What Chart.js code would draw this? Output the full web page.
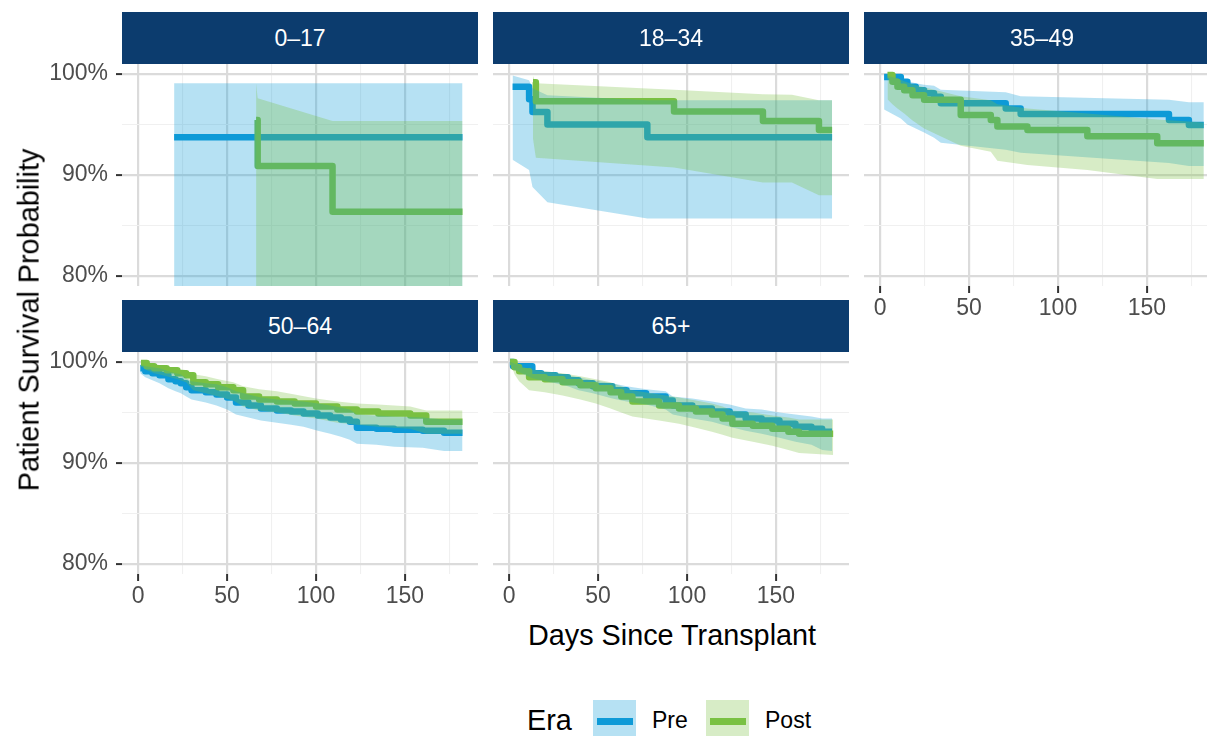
<!DOCTYPE html>
<html>
<head>
<meta charset="utf-8">
<script src="https://cdn.jsdelivr.net/npm/chart.js@4.4.1/dist/chart.umd.min.js"></script>
<style>
  html, body { margin: 0; padding: 0; background: #fff; }
  body { width: 1207px; height: 736px; overflow: hidden; position: relative;
         font-family: "Liberation Sans", Arial, Helvetica, sans-serif; }
  canvas { position: absolute; z-index: 1; }
  .strip { position: absolute; z-index: 2; width: 356px; height: 52px; background: #0C3C6E;
           color: #fff; font-size: 23px; line-height: 1; display: flex;
           align-items: center; justify-content: center; }
  .title { position: absolute; z-index: 3; color: #000; font-size: 28.8px; line-height: 1; white-space: nowrap; }
  .legend-key { position: absolute; z-index: 3; width: 43px; height: 43px; }
  .legend-key span { position: absolute; left: 4px; width: 36px; top: 18px; height: 6.7px; }
  .legend-label { position: absolute; z-index: 3; font-size: 23px; line-height: 1; color: #000; white-space: nowrap; }
</style>
</head>
<body>
<script>
// ---- facets, eras and axis ticks ----
const AGE_GROUPS = ['0–17', '18–34', '35–49', '50–64', '65+'];
const ERAS = ['Pre', 'Post'];
const X_MAJOR = [0, 50, 100, 150];
const X_MINOR = [25, 75, 125, 175];
const Y_MAJOR = [80, 90, 100];
const Y_MINOR = [85, 95];
const X_LIMITS = [-9.1, 191.1];
const Y_LIMITS = [79, 101];

// ---- Kaplan-Meier estimates (%) with confidence bands, by age group and era ----
// 0–17
const days_0_17_pre  = [20.2, 182.4];
const surv_0_17_pre  = [93.75, 93.75];
const upper_0_17_pre = [99.1, 99.1];
const lower_0_17_pre = [63.2, 63.2];
const days_0_17_post  = [66.3, 67.2, 109.3, 182.4];
const surv_0_17_post  = [95.45, 90.9, 86.35, 86.35];
const upper_0_17_post = [99.1, 97.6, 95.35, 95.35];
const lower_0_17_post = [73.1, 70.8, 62.5, 62.5];

// 18–34
const days_18_34_pre  = [1.9, 11.2, 13.1, 21.5, 77.7, 181.6];
const surv_18_34_pre  = [98.75, 97.5, 96.25, 95.0, 93.75, 93.75];
const upper_18_34_pre = [99.85, 99.4, 98.6, 97.9, 97.4, 97.4];
const lower_18_34_pre = [91.5, 90.5, 88.8, 87.3, 85.7, 85.7];
const days_18_34_post  = [13.4, 15.0, 92.7, 142.7, 159.0, 174.2, 181.6];
const surv_18_34_post  = [99.2, 97.3, 96.3, 95.35, 95.35, 94.45, 94.45];
const upper_18_34_post = [99.8, 99.1, 98.45, 98.0, 97.95, 97.4, 97.4];
const lower_18_34_post = [93.6, 91.7, 90.75, 89.25, 89.25, 88.0, 88.0];

// 35–49
const days_35_49_pre  = [2.2, 11.6, 15.3, 20.0, 24.7, 30.3, 34.1, 70.6, 79.0, 162.4, 173.6, 182.0];
const surv_35_49_pre  = [99.7, 99.25, 98.75, 98.4, 98.1, 97.75, 97.1, 96.6, 96.05, 95.45, 94.95, 94.95];
const upper_35_49_pre = [99.9, 99.5, 99.3, 99.1, 98.95, 98.85, 98.45, 98.2, 97.8, 97.45, 97.2, 97.2];
const lower_35_49_pre = [96.5, 95.6, 95.0, 94.6, 94.2, 93.7, 93.2, 92.5, 92.2, 91.2, 90.9, 90.9];
const days_35_49_post  = [4.1, 6.9, 9.7, 13.5, 18.2, 24.7, 45.3, 62.2, 65.9, 82.8, 116.5, 155.8, 182.0];
const surv_35_49_post  = [99.9, 99.25, 98.75, 98.4, 97.9, 97.45, 95.95, 95.45, 94.8, 94.45, 93.85, 93.15, 93.15];
const upper_35_49_post = [99.95, 99.8, 99.6, 99.3, 99.0, 98.7, 97.8, 97.4, 97.0, 96.6, 96.1, 95.5, 95.2];
const lower_35_49_post = [97.5, 97.0, 96.6, 96.1, 95.4, 94.6, 92.9, 92.3, 91.4, 91.0, 90.5, 89.6, 89.6];

// 50–64
const days_50_64_pre  = [1.2, 4, 8, 12, 17, 21, 24, 27, 30, 38, 44, 50, 55, 62, 69, 78, 86, 93, 101, 108, 114, 119, 123, 134, 144, 160, 172, 182.4];
const surv_50_64_pre  = [99.4, 99.1, 98.9, 98.7, 98.3, 98.1, 97.9, 97.5, 97.2, 97.0, 96.8, 96.5, 96.0, 95.7, 95.4, 95.2, 95.1, 94.9, 94.7, 94.5, 94.3, 94.1, 93.5, 93.4, 93.3, 93.2, 93.0, 93.0];
const upper_50_64_pre = [99.8, 99.6, 99.5, 99.4, 99.1, 98.9, 98.8, 98.4, 98.1, 97.9, 97.8, 97.5, 97.1, 96.8, 96.5, 96.3, 96.2, 96.1, 95.9, 95.7, 95.5, 95.3, 94.8, 94.7, 94.6, 94.5, 94.3, 94.3];
const lower_50_64_pre = [98.9, 98.5, 98.2, 97.9, 97.4, 97.1, 96.9, 96.6, 96.3, 96.0, 95.7, 95.3, 94.8, 94.5, 94.2, 94.0, 93.8, 93.6, 93.2, 92.9, 92.6, 92.3, 91.9, 91.8, 91.6, 91.5, 91.2, 91.2];
const days_50_64_post  = [1.6, 4.8, 9, 16, 22, 27, 31, 38, 45, 53.5, 59, 68, 78, 88, 100, 112, 123, 135, 153, 162, 182.4];
const surv_50_64_post  = [99.9, 99.6, 99.4, 99.2, 98.9, 98.7, 98.0, 97.8, 97.5, 97.2, 96.6, 96.3, 96.1, 95.9, 95.6, 95.3, 95.1, 94.9, 94.7, 94.1, 94.1];
const upper_50_64_post = [100.0, 99.95, 99.8, 99.6, 99.4, 99.2, 98.8, 98.6, 98.3, 98.0, 97.6, 97.3, 97.1, 96.8, 96.4, 96.1, 95.9, 95.8, 95.6, 95.2, 95.2];
const lower_50_64_post = [99.6, 99.2, 98.9, 98.6, 98.3, 98.0, 97.2, 96.9, 96.6, 96.2, 95.6, 95.2, 95.0, 94.7, 94.4, 94.0, 93.8, 93.6, 93.4, 92.9, 92.9];

// 65+
const days_65_pre  = [0.5, 2.2, 13, 18, 26, 33, 39, 47, 58, 66, 77, 88, 92, 103, 114, 124, 133, 142, 152, 161, 170, 176, 181.6];
const surv_65_pre  = [100, 99.6, 98.9, 98.7, 98.5, 98.2, 97.9, 97.6, 97.2, 96.9, 96.6, 96.2, 95.7, 95.4, 95.1, 94.8, 94.4, 94.2, 93.9, 93.6, 93.4, 93.1, 93.1];
const upper_65_pre = [100, 99.9, 99.3, 99.1, 99.0, 98.7, 98.5, 98.2, 97.9, 97.6, 97.3, 97.1, 96.6, 96.4, 96.1, 95.8, 95.4, 95.3, 95.0, 94.8, 94.6, 94.4, 94.4];
const lower_65_pre = [100, 99.3, 98.4, 98.2, 97.9, 97.6, 97.2, 96.9, 96.4, 96.1, 95.8, 95.3, 94.8, 94.4, 94.1, 93.6, 93.2, 92.9, 92.5, 92.1, 91.8, 91.3, 91.2];
const days_65_post  = [0.5, 3, 5.6, 11.2, 20, 30, 40, 48.7, 57, 63, 69.3, 84.3, 95.5, 105, 114, 120, 125.5, 137, 148, 157, 163, 182.2];
const surv_65_post  = [100, 99.5, 99.1, 98.5, 98.3, 98.0, 97.7, 97.4, 97.0, 96.6, 96.1, 95.7, 95.4, 95.1, 94.8, 94.4, 93.9, 93.7, 93.4, 93.1, 92.9, 92.9];
const upper_65_post = [100, 99.9, 99.7, 99.3, 99.1, 98.9, 98.6, 98.3, 98.0, 97.6, 97.2, 96.8, 96.5, 96.2, 95.9, 95.6, 95.2, 95.0, 94.7, 94.5, 94.3, 94.3];
const lower_65_post = [100, 98.8, 98.1, 97.2, 97.0, 96.7, 96.3, 95.9, 95.4, 95.0, 94.6, 94.2, 93.9, 93.5, 93.1, 92.8, 92.5, 92.1, 91.7, 91.3, 91.0, 90.8];

const PANEL_SERIES = [
  { pre: [days_0_17_pre, surv_0_17_pre, upper_0_17_pre, lower_0_17_pre],
    post: [days_0_17_post, surv_0_17_post, upper_0_17_post, lower_0_17_post] },
  { pre: [days_18_34_pre, surv_18_34_pre, upper_18_34_pre, lower_18_34_pre],
    post: [days_18_34_post, surv_18_34_post, upper_18_34_post, lower_18_34_post] },
  { pre: [days_35_49_pre, surv_35_49_pre, upper_35_49_pre, lower_35_49_pre],
    post: [days_35_49_post, surv_35_49_post, upper_35_49_post, lower_35_49_post] },
  { pre: [days_50_64_pre, surv_50_64_pre, upper_50_64_pre, lower_50_64_pre],
    post: [days_50_64_post, surv_50_64_post, upper_50_64_post, lower_50_64_post] },
  { pre: [days_65_pre, surv_65_pre, upper_65_pre, lower_65_pre],
    post: [days_65_post, surv_65_post, upper_65_post, lower_65_post] }
];

// ---- styling and facet layout ----
const FONT = '"Liberation Sans", Arial, Helvetica, sans-serif';
const PRE_COLOR = '#0E9AD7';
const POST_COLOR = '#7AC143';
const PRE_FILL = 'rgba(14,154,215,0.3)';
const POST_FILL = 'rgba(122,193,67,0.3)';
const MAJOR_GRID = '#DBDBDB';
const MINOR_GRID = '#F0F0F0';
const PANEL_W = 356, PANEL_H = 222, TOP_PAD = 12, Y_AXIS_W = 122, X_AXIS_H = 44;
const PANEL_LEFT = [122, 493, 864, 122, 493];
const PANEL_TOP = [64, 64, 64, 352, 352];
const SHOW_X = [false, false, true, true, true];
const SHOW_Y = [true, false, false, true, false];

const pts = (xs, ys) => xs.map((x, i) => ({ x: x, y: ys[i] }));

function buildDatasets(series) {
  const [dPre, sPre, uPre, lPre] = series.pre;
  const [dPost, sPost, uPost, lPost] = series.post;
  const band = { pointRadius: 0, borderWidth: 0, borderColor: 'rgba(0,0,0,0)', tension: 0 };
  const step = { pointRadius: 0, borderWidth: 6.5, stepped: 'before', fill: false,
                 borderJoinStyle: 'round', borderCapStyle: 'butt' };
  return [
    Object.assign({ label: 'Post upper', data: pts(dPost, uPost), fill: '+1', backgroundColor: POST_FILL, order: 0 }, band),
    Object.assign({ label: 'Post lower', data: pts(dPost, lPost), fill: false, order: 1 }, band),
    Object.assign({ label: 'Pre upper', data: pts(dPre, uPre), fill: '+1', backgroundColor: PRE_FILL, order: 2 }, band),
    Object.assign({ label: 'Pre lower', data: pts(dPre, lPre), fill: false, order: 3 }, band),
    Object.assign({ label: ERAS[1], data: pts(dPost, sPost), borderColor: POST_COLOR, order: 4 }, step),
    Object.assign({ label: ERAS[0], data: pts(dPre, sPre), borderColor: PRE_COLOR, order: 5 }, step)
  ];
}

function zeroPadding(s) {
  s.paddingLeft = 0; s.paddingRight = 0; s.paddingTop = 0; s.paddingBottom = 0;
}

function makePanel(i) {
  const showX = SHOW_X[i], showY = SHOW_Y[i];
  const canvas = document.createElement('canvas');
  const w = PANEL_W + (showY ? Y_AXIS_W : 0);
  const h = TOP_PAD + PANEL_H + (showX ? X_AXIS_H : 0);
  canvas.width = w; canvas.height = h;
  canvas.style.width = w + 'px'; canvas.style.height = h + 'px';
  canvas.style.left = (PANEL_LEFT[i] - (showY ? Y_AXIS_W : 0)) + 'px';
  canvas.style.top = (PANEL_TOP[i] - TOP_PAD) + 'px';
  document.body.appendChild(canvas);

  const strip = document.createElement('div');
  strip.className = 'strip';
  strip.style.left = PANEL_LEFT[i] + 'px';
  strip.style.top = (PANEL_TOP[i] - 52) + 'px';
  strip.textContent = AGE_GROUPS[i];
  document.body.appendChild(strip);

  new Chart(canvas, {
    type: 'line',
    data: { datasets: buildDatasets(PANEL_SERIES[i]) },
    options: {
      responsive: false, animation: false, events: [], devicePixelRatio: 1,
      layout: { padding: { top: TOP_PAD, left: 0, right: 0, bottom: 0 } },
      plugins: { legend: { display: false }, tooltip: { enabled: false } },
      scales: {
        x: {
          type: 'linear', min: X_LIMITS[0], max: X_LIMITS[1],
          afterBuildTicks: s => { s.ticks = X_MAJOR.concat(X_MINOR).sort((a, b) => a - b).map(v => ({ value: v })); },
          afterFit: s => { s.height = showX ? X_AXIS_H : 0; zeroPadding(s); },
          border: { display: false },
          grid: {
            color: c => X_MAJOR.includes(c.tick.value) ? MAJOR_GRID : MINOR_GRID,
            lineWidth: c => X_MAJOR.includes(c.tick.value) ? 2.2 : 1.1,
            drawTicks: showX, tickLength: 7, tickWidth: 2,
            tickColor: c => X_MAJOR.includes(c.tick.value) ? '#333333' : 'rgba(0,0,0,0)'
          },
          ticks: {
            display: showX, autoSkip: false, maxRotation: 0, minRotation: 0, padding: 2,
            color: '#4D4D4D', font: { family: FONT, size: 23 },
            callback: v => X_MAJOR.includes(v) ? String(v) : ''
          }
        },
        y: {
          type: 'linear', min: Y_LIMITS[0], max: Y_LIMITS[1],
          afterBuildTicks: s => { s.ticks = Y_MAJOR.concat(Y_MINOR).sort((a, b) => a - b).map(v => ({ value: v })); },
          afterFit: s => { s.width = showY ? Y_AXIS_W : 0; zeroPadding(s); },
          border: { display: false },
          grid: {
            color: c => Y_MAJOR.includes(c.tick.value) ? MAJOR_GRID : MINOR_GRID,
            lineWidth: c => Y_MAJOR.includes(c.tick.value) ? 2.2 : 1.1,
            drawTicks: showY, tickLength: 6, tickWidth: 2,
            tickColor: c => Y_MAJOR.includes(c.tick.value) ? '#333333' : 'rgba(0,0,0,0)'
          },
          ticks: {
            display: showY, autoSkip: false, padding: 8,
            color: '#4D4D4D', font: { family: FONT, size: 23 },
            callback: v => Y_MAJOR.includes(v) ? v + '%' : ''
          }
        }
      }
    }
  });
}

for (let i = 0; i < AGE_GROUPS.length; i++) makePanel(i);

// ---- axis titles and legend ----
function addText(cls, text, css) {
  const el = document.createElement('div');
  el.className = cls;
  el.textContent = text;
  Object.assign(el.style, css);
  document.body.appendChild(el);
  return el;
}
addText('title', 'Days Since Transplant', { left: '672px', top: '620.6px', transform: 'translateX(-50%)' });
addText('title', 'Patient Survival Probability',
        { left: '28.5px', top: '320px', transform: 'translate(-50%, -50%) rotate(-90deg)' });
addText('title', 'Era', { left: '527px', top: '705.6px' });

const LEGEND_KEYS = [
  { era: ERAS[0], left: 593, labelLeft: 652, fill: PRE_FILL, line: PRE_COLOR },
  { era: ERAS[1], left: 706, labelLeft: 765, fill: POST_FILL, line: POST_COLOR }
];
LEGEND_KEYS.forEach(k => {
  const key = document.createElement('div');
  key.className = 'legend-key';
  key.style.left = k.left + 'px';
  key.style.top = '700px';
  key.style.background = k.fill;
  const bar = document.createElement('span');
  bar.style.background = k.line;
  key.appendChild(bar);
  document.body.appendChild(key);
  addText('legend-label', k.era, { left: k.labelLeft + 'px', top: '709.3px' });
});
</script>
</body>
</html>
